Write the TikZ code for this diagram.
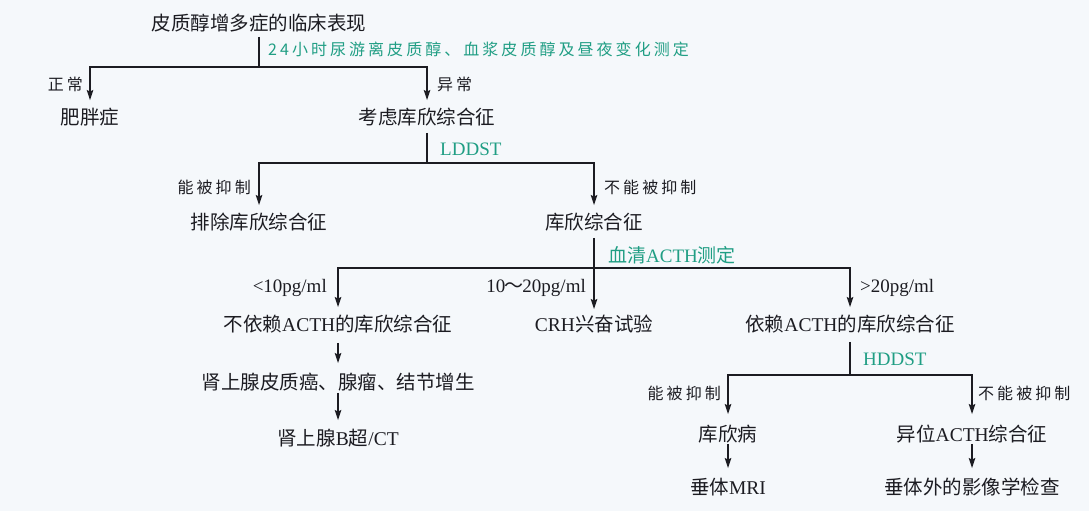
\documentclass[tikz,border=0pt]{standalone}
\usepackage{fontspec}
\setmainfont{Noto Sans CJK SC}
\newfontfamily\lat{Liberation Serif}
\newfontfamily\cjkf{Noto Sans CJK SC}
\newfontfamily\kai[LetterSpace=19]{Noto Sans CJK SC}
\usetikzlibrary{arrows.meta}
\definecolor{bg}{RGB}{245,248,251}
\definecolor{ink}{RGB}{28,28,34}
\definecolor{grn}{RGB}{32,158,132}
\begin{document}
\begin{tikzpicture}[x=1pt,y=-1pt,
  txt/.style={font=\fontsize{19.5}{21}\selectfont, text=ink, inner sep=0pt, text height=17.2pt, text depth=2.3pt},
  lbl/.style={font={\fontsize{16}{17}\kai}, text=ink, inner sep=0pt, text height=14pt, text depth=2pt},
  ltx/.style={font={\fontsize{19}{20}\lat}, text=ink, inner sep=0pt, text height=14pt, text depth=4pt},
  gtx/.style={font=\fontsize{19}{20}\selectfont, text=grn, inner sep=0pt, anchor=west, text height=17pt, text depth=2pt},
  gkai/.style={font={\fontsize{16}{17}\kai}, text=grn, inner sep=0pt, anchor=west, text height=14pt, text depth=2pt},
  ln/.style={draw=ink, line width=1.25pt},
  arr/.style={ln, -{Stealth[length=10pt,width=6.5pt,inset=1.5pt]}},
]
\fill[bg] (0,0) rectangle (1089,511);
\useasboundingbox (0,0) rectangle (1089,511);

% nodes
\node[txt] (title) at (259,23) {皮质醇增多症的临床表现};
\node[txt] (fat) at (90,117) {肥胖症};
\node[txt] (kaolv) at (427,117) {考虑库欣综合征};
\node[txt] (excl) at (259,222) {排除库欣综合征};
\node[txt] (cush) at (594,222) {库欣综合征};
\node[txt] (ndep) at (338,324) {不依赖{\lat ACTH}的库欣综合征};
\node[txt] (crh) at (594,324) {{\lat CRH}兴奋试验};
\node[txt] (dep) at (850,324) {依赖{\lat ACTH}的库欣综合征};
\node[txt] (adr) at (338,382) {肾上腺皮质癌、腺瘤、结节增生};
\node[txt] (adrct) at (338,438) {肾上腺{\lat B}超{\lat /CT}};
\node[txt] (cd) at (728,434) {库欣病};
\node[txt] (ect) at (972,434) {异位{\lat ACTH}综合征};
\node[txt] (mri) at (728,487) {垂体{\lat MRI}};
\node[txt] (extra) at (972,487) {垂体外的影像学检查};

% junctions
\coordinate (j1) at (259,67);
\coordinate (j2) at (427,163);
\coordinate (j3) at (594,268);
\coordinate (j4) at (850,375);

% test labels (green)
\node[gkai] (t1) at (268,50) {24小时尿游离皮质醇、血浆皮质醇及昼夜变化测定};
\node[gtx, font={\fontsize{19}{20}\lat}] (t2) at (440,148) {LDDST};
\node[gtx] (t3) at (608,255) {血清{\lat ACTH}测定};
\node[gtx, font={\fontsize{19}{20}\lat}] (t4) at (863,358) {HDDST};

% branch labels
\node[lbl, anchor=east] (b1) at (83,84) {正常};
\node[lbl, anchor=west] (b2) at (437,84) {异常};
\node[lbl, anchor=east] (b3) at (251,187) {能被抑制};
\node[lbl, anchor=west] (b4) at (604,187) {不能被抑制};
\node[ltx, anchor=east] (b5) at (327,287) {<10pg/ml};
\node[ltx, anchor=east] (b6) at (586,287) {10{\cjkf\kern-1pt～\kern-1pt}20pg/ml};
\node[ltx, anchor=west] (b7) at (860,287) {>20pg/ml};
\node[lbl, anchor=east] (b8) at (721,393) {能被抑制};
\node[lbl, anchor=west] (b9) at (978,393) {不能被抑制};

% connectors
\draw[ln] ([yshift=-4pt]title.south) -- (j1);
\draw[arr] (j1) -| ([yshift=7pt]fat.north);
\draw[arr] (j1) -| ([yshift=7pt]kaolv.north);

\draw[ln] ([yshift=-6pt]kaolv.south) -- (j2);
\draw[arr] (j2) -| ([yshift=7pt]excl.north);
\draw[arr] (j2) -| ([yshift=7pt]cush.north);

\draw[arr] ([yshift=-6pt]cush.south) -- ([yshift=5pt]crh.north);
\draw[arr] (j3) -| ([yshift=7pt]ndep.north);
\draw[arr] (j3) -| ([yshift=7pt]dep.north);

\draw[arr] ([yshift=-9pt]ndep.south) -- ([yshift=9pt]adr.north);
\draw[arr] ([yshift=-1pt]adr.south) -- ([yshift=8pt]adrct.north);

\draw[ln] ([yshift=-8pt]dep.south) -- (j4);
\draw[arr] (j4) -| ([yshift=10pt]cd.north);
\draw[arr] (j4) -| ([yshift=10pt]ect.north);

\draw[arr] (cd.south) -- ([yshift=9pt]mri.north);
\draw[arr] (ect.south) -- ([yshift=9pt]extra.north);
\end{tikzpicture}
\end{document}
